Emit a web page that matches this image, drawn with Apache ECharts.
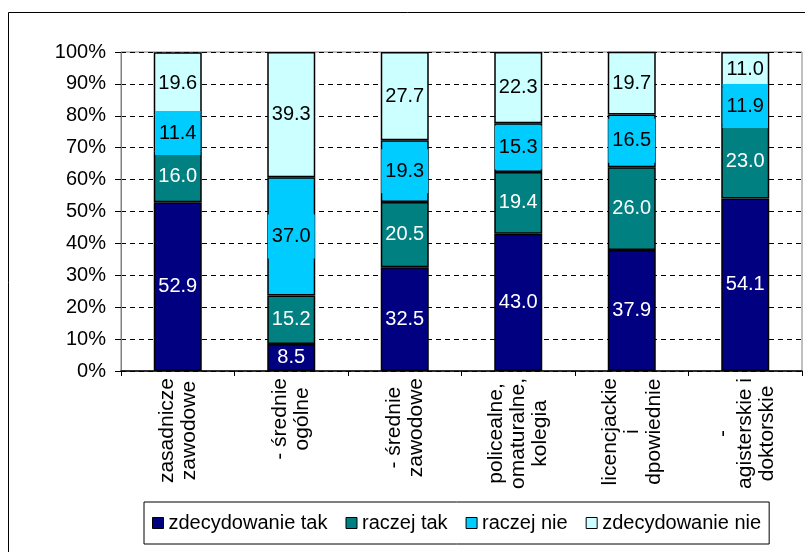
<!DOCTYPE html>
<html>
<head>
<meta charset="utf-8">
<script src="https://cdn.jsdelivr.net/npm/echarts@6/dist/echarts.min.js"></script>
<style>
  html, body { margin: 0; padding: 0; background: #ffffff; }
  #chart { width: 805px; height: 552px; }
</style>
</head>
<body>
<div id="chart"></div>
<script>
// ---- data ----
const categories = [
  "zasadnicze\nzawodowe",
  "- średnie\nogólne",
  "- średnie\nzawodowe",
  "policealne,\nomaturalne,\nkolegia",
  "licencjackie\ni\ndpowiednie",
  "-\nagisterskie i\ndoktorskie"
];
const seriesNames = ["zdecydowanie tak", "raczej tak", "raczej nie", "zdecydowanie nie"];
const zdecydowanieTak = [52.9, 8.5, 32.5, 43.0, 37.9, 54.1];
const raczejTak       = [16.0, 15.2, 20.5, 19.4, 26.0, 23.0];
const raczejNie       = [11.4, 37.0, 19.3, 15.3, 16.5, 11.9];
const zdecydowanieNie = [19.6, 39.3, 27.7, 22.3, 19.7, 11.0];
const yTicks = [0, 10, 20, 30, 40, 50, 60, 70, 80, 90, 100];

// ---- styles ----
const FONT = "'Liberation Sans', Arial, sans-serif";
const colors = ["#000080", "#008080", "#00CCFF", "#CCFFFF"];
const labelColors = ["#ffffff", "#ffffff", "#000000", "#000000"];
const labelBg = [null, null, "#00CCFF", null];
const values = [zdecydowanieTak, raczejTak, raczejNie, zdecydowanieNie];

const chart = echarts.init(document.getElementById('chart'), null, { renderer: 'canvas' });

const series = seriesNames.map((name, i) => ({
  name: name,
  type: 'bar',
  stack: 'total',
  barWidth: 48,
  data: values[i],
  itemStyle: { color: colors[i], borderColor: '#000000', borderWidth: 1.5 },
  label: {
    show: true,
    position: 'inside',
    formatter: p => p.value.toFixed(1),
    fontFamily: FONT,
    fontSize: 20,
    lineHeight: 20,
    color: labelColors[i],
    backgroundColor: labelBg[i] || 'transparent',
    padding: labelBg[i] ? [12, 4, 12, 4] : 0
  },
  emphasis: { disabled: true }
}));

chart.setOption({
  animation: false,
  backgroundColor: '#ffffff',
  graphic: [{
    type: 'rect',
    shape: { x: 8.5, y: 12.5, width: 820, height: 560 },
    style: { fill: 'none', stroke: '#000000', lineWidth: 1 },
    silent: true,
    z: -10
  }],
  grid: {
    left: 121, right: 3, top: 52, bottom: 181,
    show: true, borderColor: '#808080', borderWidth: 1, backgroundColor: 'transparent'
  },
  legend: {
    data: seriesNames,
    left: 144, top: 502,
    orient: 'horizontal',
    padding: [10, 8, 10, 8],
    itemGap: 18,
    itemWidth: 11, itemHeight: 11,
    icon: 'rect',
    backgroundColor: '#ffffff',
    borderColor: '#000000', borderWidth: 1,
    textStyle: { fontFamily: FONT, fontSize: 20, lineHeight: 22, color: '#000000' },
    itemStyle: { borderColor: '#000000', borderWidth: 1 },
    selectedMode: false
  },
  xAxis: {
    type: 'category',
    data: categories,
    axisLine: { show: true, lineStyle: { color: '#000000', width: 1.5 } },
    axisTick: { show: true, inside: false, length: 5, alignWithLabel: false, lineStyle: { color: '#000000' } },
    axisLabel: {
      interval: 0,
      rotate: 90,
      margin: 7,
      fontFamily: FONT,
      fontSize: 21,
      lineHeight: 22,
      color: '#000000',
      formatter: v => v.split('\n').map(s => '{c|' + s + '}').join('\n'),
      rich: { c: { align: 'center', fontFamily: FONT, fontSize: 21, lineHeight: 22, color: '#000000' } }
    },
    splitLine: { show: false }
  },
  yAxis: {
    type: 'value',
    min: 0, max: 100, interval: 10,
    axisLine: { show: true, lineStyle: { color: '#808080', width: 1 } },
    axisTick: { show: true, length: 6, lineStyle: { color: '#000000' } },
    axisLabel: {
      formatter: v => yTicks.includes(v) ? v + '%' : '',
      fontFamily: FONT, fontSize: 20, color: '#000000', margin: 15
    },
    splitLine: { show: true, lineStyle: { color: '#000000', type: [5, 4], width: 1 } }
  },
  series: series
});
</script>
</body>
</html>
